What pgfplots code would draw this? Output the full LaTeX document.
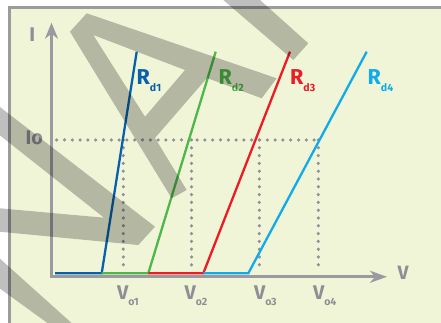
\documentclass[border=0pt]{standalone}
\usepackage{fontspec}
\setmainfont{Fira Sans}
\usepackage{pgfplots}
\pgfplotsset{compat=1.18}
\usetikzlibrary{arrows.meta}

\definecolor{bgcol}{HTML}{F1F5D8}
\definecolor{framecol}{HTML}{9C9C9C}
\definecolor{axcol}{HTML}{9A9AA0}
\definecolor{txtcol}{HTML}{8E8F95}
\definecolor{dotcol}{HTML}{8F8F99}
\definecolor{rd1}{HTML}{0760AC}
\definecolor{rd2}{HTML}{4DB748}
\definecolor{rd3}{HTML}{ED1C24}
\definecolor{rd4}{HTML}{10ABE8}

\newcommand{\Rlab}[1]{{\fontsize{21.5}{22}\selectfont\bfseries R}\raisebox{-7.4pt}{\fontsize{10.5}{11}\selectfont\bfseries d#1}}
\newcommand{\Vlab}[1]{{\fontsize{19.8}{20}\selectfont\bfseries V}\raisebox{-6pt}{\fontsize{10.5}{11}\selectfont\bfseries o#1}}

\begin{document}
\begin{tikzpicture}
\begin{axis}[
    hide axis,
    scale only axis,
    width=441pt, height=323pt,
    xmin=-51.5, xmax=389.5,
    ymin=-46.5, ymax=276.5,
    clip=true,
]
% background and frame
\fill[white] (axis cs:-60,-60) rectangle (axis cs:400,290);
\fill[bgcol] (axis cs:-42,-60) rectangle (axis cs:400,269);
\draw[framecol, line width=3.2pt] (axis cs:-42,-60) -- (axis cs:-42,269) -- (axis cs:400,269);

% dotted guide lines
\pgfplotsset{guide/.style={dotcol, line width=3.5pt, line cap=round, dash pattern=on 0pt off 7.8pt}}
\addplot[guide] coordinates {(5.2,136.5) (267,136.5)};
\addplot[guide] coordinates {(71.8,136.5) (71.8,5.8)};
\addplot[guide] coordinates {(140,136.5) (140,5.8)};
\addplot[guide] coordinates {(207.8,136.5) (207.8,5.8)};
\addplot[guide] coordinates {(266.8,136.5) (266.8,5.8)};

% characteristics
\addplot[rd1, line width=2.3pt] coordinates {(3.5,3.2) (50.2,3.2) (85.2,224.8)};
\addplot[rd2, line width=2.3pt] coordinates {(50.2,3.2) (96.8,3.2) (164.2,224.8)};
\addplot[rd3, line width=2.3pt] coordinates {(96.8,3.2) (151.8,3.2) (238.5,224.8)};
\addplot[rd4, line width=2.3pt] coordinates {(151.8,3.2) (196.8,3.2) (315.2,224.8)};

% axes
\draw[axcol, line width=2.6pt, -{Stealth[length=17pt,width=12pt,inset=5pt]}] (axis cs:-1.3,-0.3) -- (axis cs:335.5,-0.3);
\draw[axcol, line width=2.6pt, -{Stealth[length=16pt,width=13pt,inset=5pt]}] (axis cs:0,-1.3) -- (axis cs:0,253.8);

% labels
\node[txtcol, anchor=base, font=\fontsize{19.8}{20}\selectfont\bfseries] at (axis cs:-19.2,234.8) {I};
\node[txtcol, anchor=base, font=\fontsize{19.8}{20}\selectfont\bfseries] at (axis cs:-17.2,132.2) {Io};
\node[txtcol, anchor=base, font=\fontsize{19.3}{20}\selectfont\bfseries] at (axis cs:351.5,-2.8) {V};
\node[rd1, anchor=base west, inner sep=0pt] at (axis cs:85,192.2) {\Rlab{1}};
\node[rd2, anchor=base west, inner sep=0pt] at (axis cs:167,192.2) {\Rlab{2}};
\node[rd3, anchor=base west, inner sep=0pt] at (axis cs:238.5,192.2) {\Rlab{3}};
\node[rd4, anchor=base west, inner sep=0pt] at (axis cs:316,192.2) {\Rlab{4}};
\node[txtcol, anchor=base west, inner sep=0pt] at (axis cs:65.3,-23.5) {\Vlab{1}};
\node[txtcol, anchor=base west, inner sep=0pt] at (axis cs:133,-23.5) {\Vlab{2}};
\node[txtcol, anchor=base west, inner sep=0pt] at (axis cs:202.3,-23.5) {\Vlab{3}};
\node[txtcol, anchor=base west, inner sep=0pt] at (axis cs:261.3,-23.5) {\Vlab{4}};

% watermark strokes
\fill[black, fill opacity=0.25] (axis cs:167.1,280.5) -- (axis cs:204,280.5) -- (axis cs:256.8,233.2) -- (axis cs:241.8,216.5) -- cycle;
\fill[black, fill opacity=0.25, even odd rule]
    (axis cs:18.5,244.8) -- (axis cs:35.2,263.2) -- (axis cs:225.2,198.2) -- (axis cs:210.2,178.2)
    -- (axis cs:155.5,198.5) -- (axis cs:103.5,138.5) -- (axis cs:135.2,86.5) -- (axis cs:120.2,78.2) -- cycle
    (axis cs:41.8,241.5) -- (axis cs:133.5,206.5) -- (axis cs:93.5,159.8) -- cycle;
\fill[black, fill opacity=0.25]
    (axis cs:-52,169.8) -- (axis cs:103.5,49.8) -- (axis cs:86.8,31.5) -- (axis cs:-52,44.8)
    -- (axis cs:-52,68.2) -- (axis cs:52.5,58.8) -- (axis cs:-52,141.5) -- cycle;
\fill[black, fill opacity=0.25] (axis cs:-52,18.2) -- (axis cs:24.5,-50.5) -- (axis cs:1.5,-50.5) -- (axis cs:-52,-11.8) -- cycle;
\end{axis}
\pgfresetboundingbox
\path[use as bounding box] (current axis.south west) rectangle (current axis.north east);
\end{tikzpicture}
\end{document}
